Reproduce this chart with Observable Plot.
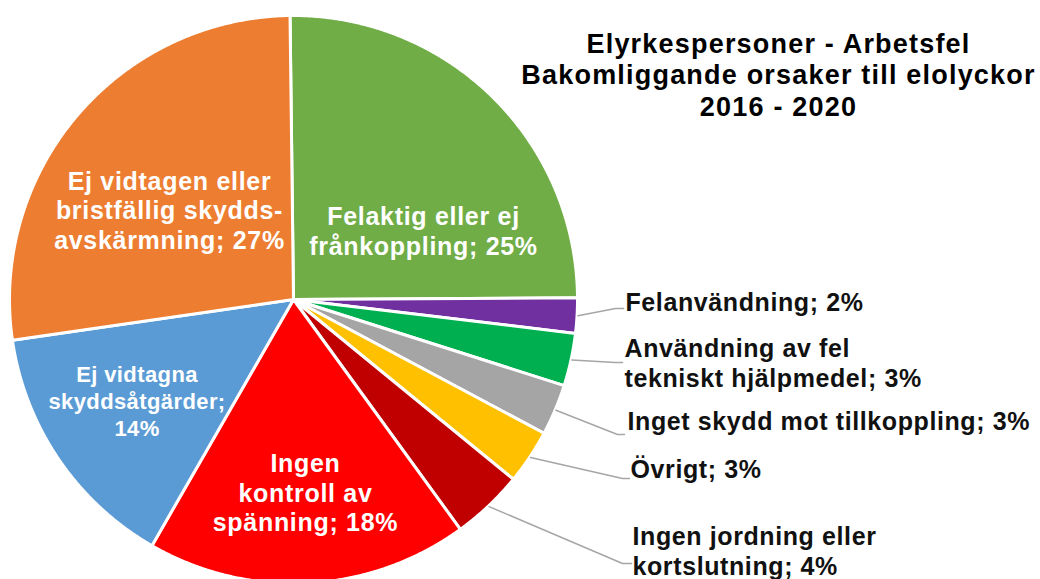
<!DOCTYPE html>
<html><head><meta charset="utf-8">
<script src="https://cdn.jsdelivr.net/npm/d3@7"></script>
<script src="https://cdn.jsdelivr.net/npm/@observablehq/plot@0.6"></script>
<style>
body{margin:0;background:#fff;}
svg{display:block;font-family:"Liberation Sans",Arial,sans-serif;}
</style>
</head><body><div id="chart"></div>
<script>
// ---- data ----
const categories = [
  "Felaktig eller ej frånkoppling",
  "Felanvändning",
  "Användning av fel tekniskt hjälpmedel",
  "Inget skydd mot tillkoppling",
  "Övrigt",
  "Ingen jordning eller kortslutning",
  "Ingen kontroll av spänning",
  "Ej vidtagna skyddsåtgärder",
  "Ej vidtagen eller bristfällig skyddsavskärmning"
];
const values = [25.1, 2.0, 3.0, 2.9, 3.1, 4.1, 18.3, 14.4, 27.1];
const colors = ["#70AD47","#7030A0","#00B050","#A5A5A5","#FFC000","#C00000","#FF0000","#5B9BD5","#ED7D31"];
// label wording with line breaks ({p} = percent)
const labelTemplates = [
  "Felaktig eller ej\nfrånkoppling; {p}",
  "Felanvändning; {p}",
  "Användning av fel\ntekniskt hjälpmedel; {p}",
  "Inget skydd mot tillkoppling; {p}",
  "Övrigt; {p}",
  "Ingen jordning eller\nkortslutning; {p}",
  "Ingen\nkontroll av\nspänning; {p}",
  "Ej vidtagna\nskyddsåtgärder;\n{p}",
  "Ej vidtagen eller\nbristfällig skydds-\navskärmning; {p}"
];
const titleLines = ["Elyrkespersoner - Arbetsfel", "Bakomliggande orsaker till elolyckor", "2016 - 2020"];

// ---- layout (pixel space of the frame) ----
const W = 1040, H = 579;
const cx = 293, cy = 299, R = 284;
const startDeg = -0.7;
const inside = [true, false, false, false, false, false, true, true, true];
const labelX = [423, 625, 624, 627, 630, 632, 305, 136.5, 169];
const labelY = [230, 301, 362, 420, 468, 550, 492, 400, 209.5];
const elbowX = [null, 615, 615, 617, 622, 622, null, null, null];
const elbowY = [null, 308, 362, 434, 478, 563, null, null, null];
const endX   = [null, 623, 622, 624, 629, 631, null, null, null];

const total = d3.sum(values);
const a0 = startDeg * Math.PI / 180;
const arcs = d3.pie().sort(null).startAngle(a0).endAngle(a0 + 2 * Math.PI)(values);
const pt = (a, r) => ({x: cx + r * Math.sin(a), y: cy - r * Math.cos(a)});

const wedges = [];
arcs.forEach((d, i) => {
  const name = categories[i];
  wedges.push({name, color: colors[i], ...pt(0, 0)});
  const n = Math.max(4, Math.ceil((d.endAngle - d.startAngle) / (Math.PI / 720)));
  for (let k = 0; k <= n; k++) {
    const a = d.startAngle + (d.endAngle - d.startAngle) * k / n;
    wedges.push({name, color: colors[i], ...pt(a, R)});
  }
  wedges.push({name, color: colors[i], ...pt(0, 0)});
});

const pct = values.map(v => Math.round(v / total * 100) + "%");
const labels = categories.map((c, i) => ({
  name: c, text: labelTemplates[i].replace("{p}", pct[i]), x: labelX[i], y: labelY[i], inside: inside[i]
}));

const leaders = [];
arcs.forEach((d, i) => {
  if (inside[i]) return;
  const m = (d.startAngle + d.endAngle) / 2;
  leaders.push({name: categories[i], ...pt(m, R * 1.003)});
  leaders.push({name: categories[i], x: elbowX[i], y: elbowY[i]});
  leaders.push({name: categories[i], x: endX[i], y: elbowY[i]});
});

const titleData = [{text: titleLines.join("\n"), x: 778, y: 73.5}];
const blue = labels.filter((d, i) => i === 7);
const bigInside = labels.filter((d, i) => inside[i] && i !== 7);
const outside = labels.filter(d => !d.inside);

const chart = Plot.plot({
  width: W, height: H, margin: 0,
  x: {domain: [0, W], range: [0, W], axis: null},
  y: {domain: [0, H], range: [0, H], axis: null},
  color: {type: "identity"},
  style: {fontFamily: "'Liberation Sans', Arial, sans-serif", background: "white"},
  marks: [
    Plot.line(wedges, {x: "x", y: "y", z: "name", fill: "color", stroke: "white", strokeWidth: 3, strokeLinejoin: "round"}),
    Plot.line(leaders, {x: "x", y: "y", z: "name", stroke: "#A6A6A6", strokeWidth: 1.5}),
    Plot.text(bigInside, {x: "x", y: "y", text: "text", fill: "white", fontSize: 25, fontWeight: "bold", lineHeight: 1.18}),
    Plot.text(blue, {x: "x", y: "y", text: "text", fill: "white", fontSize: 22, fontWeight: "bold", lineHeight: 1.23}),
    Plot.text(outside, {x: "x", y: "y", text: "text", fill: "#111", textAnchor: "start", fontSize: 25, fontWeight: "bold", lineHeight: 1.2}),
    Plot.text(titleData, {x: "x", y: "y", text: "text", fill: "#000", fontSize: 27, fontWeight: "bold", lineHeight: 1.167})
  ]
});
document.getElementById("chart").appendChild(chart);
const spacing = [0.7, 0.4, 0.6, 1.2];
d3.select(chart).selectAll("g[aria-label='text']").each(function(d, i) {
  d3.select(this).style("letter-spacing", spacing[i] + "px");
});
</script>
</body></html>
